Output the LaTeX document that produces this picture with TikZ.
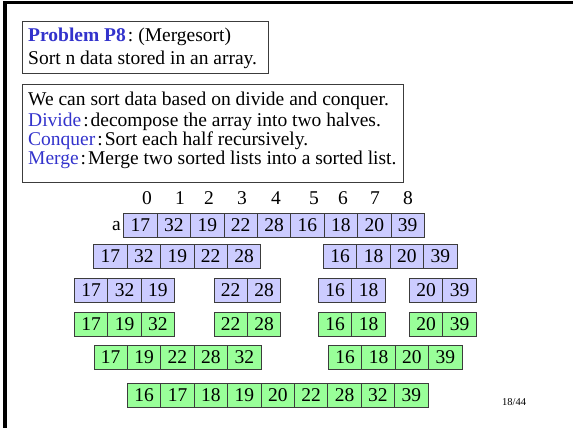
\documentclass[tikz,border=0pt]{standalone}
\usepackage{fontspec}
\setmainfont{Liberation Serif}
\definecolor{hblue}{RGB}{51,51,204}
\definecolor{lav}{RGB}{204,204,255}
\definecolor{lgreen}{RGB}{153,255,153}
\definecolor{edge}{RGB}{60,60,60}
\newcommand\cellrow[5]{%
  \foreach \v [count=\i] in {#5} {
    \node[cellbox, fill=#4] (#1-\i) at ({#2+(\i-1)*33.4}, #3) {\v};
  }}
\begin{document}
\begin{tikzpicture}[x=1pt,y=-1pt,
  bigfont/.style={font=\fontsize{19.5}{22}\selectfont},
  txt/.style={bigfont, inner sep=0pt, anchor=base west},
  idx/.style={bigfont, inner sep=0pt, anchor=base},
  cellbox/.style={bigfont, draw=edge, line width=0.9pt, minimum width=33.4pt, minimum height=24pt, inner sep=0pt, anchor=north west},
  panel/.style={draw=edge, line width=0.9pt}]
\useasboundingbox (0,0) rectangle (573,428);
% outer frame
\draw[line width=3.3pt, line join=miter] (5,440) -- (5,2.5) -- (580,2.5);
% problem box
\draw[panel] (22,21) rectangle (268,73);
\node[txt] (t1) at (28,41.7) {{\bfseries\color{hblue}Problem P8}\hspace{2pt}:\hspace{5pt}(Mergesort)};
\node[txt] (t2) at (28,65) {Sort n data stored in an array.};
% description box
\draw[panel] (22,84) rectangle (403,182);
\node[txt] (d1) at (28,106) {We can sort data based on divide and conquer.};
\node[txt] (d2) at (28,126) {{\color{hblue}Divide}\hspace{2pt}:\hspace{2pt}decompose the array into two halves.};
\node[txt] (d3) at (28,145) {{\color{hblue}Conquer}\hspace{2pt}:\hspace{2pt}Sort each half recursively.};
\node[txt] (d4) at (28,164) {{\color{hblue}Merge}\hspace{2pt}:\hspace{2pt}Merge two sorted lists into a sorted list.};
% indices
\foreach \n/\x in {0/147,1/180,2/209,3/242,4/276,5/314,6/343,7/375,8/408}
  \node[idx] (i\n) at (\x,204) {\n};
\node[bigfont, inner sep=0pt, anchor=base east] (a) at (121,230) {a};
% rows
\cellrow{ra}{123.3}{213}{lav}{17,32,19,22,28,16,18,20,39}
\cellrow{rbl}{93.3}{244}{lav}{17,32,19,22,28}
\cellrow{rbr}{323}{244}{lav}{16,18,20,39}
\cellrow{rc1}{74}{278}{lav}{17,32,19}
\cellrow{rc2}{213.5}{278}{lav}{22,28}
\cellrow{rc3}{318}{278}{lav}{16,18}
\cellrow{rc4}{409}{278}{lav}{20,39}
\cellrow{rd1}{74}{312}{lgreen}{17,19,32}
\cellrow{rd2}{213.5}{312}{lgreen}{22,28}
\cellrow{rd3}{318}{312}{lgreen}{16,18}
\cellrow{rd4}{409}{312}{lgreen}{20,39}
\cellrow{rel}{93.5}{345}{lgreen}{17,19,22,28,32}
\cellrow{rer}{328}{345}{lgreen}{16,18,20,39}
\cellrow{rf}{127}{383}{lgreen}{16,17,18,19,20,22,28,32,39}
% page number
\node[font=\fontsize{10.5}{12}\selectfont, inner sep=0pt, anchor=base west] (pg) at (502,405.5) {18/44};
\end{tikzpicture}
\end{document}
